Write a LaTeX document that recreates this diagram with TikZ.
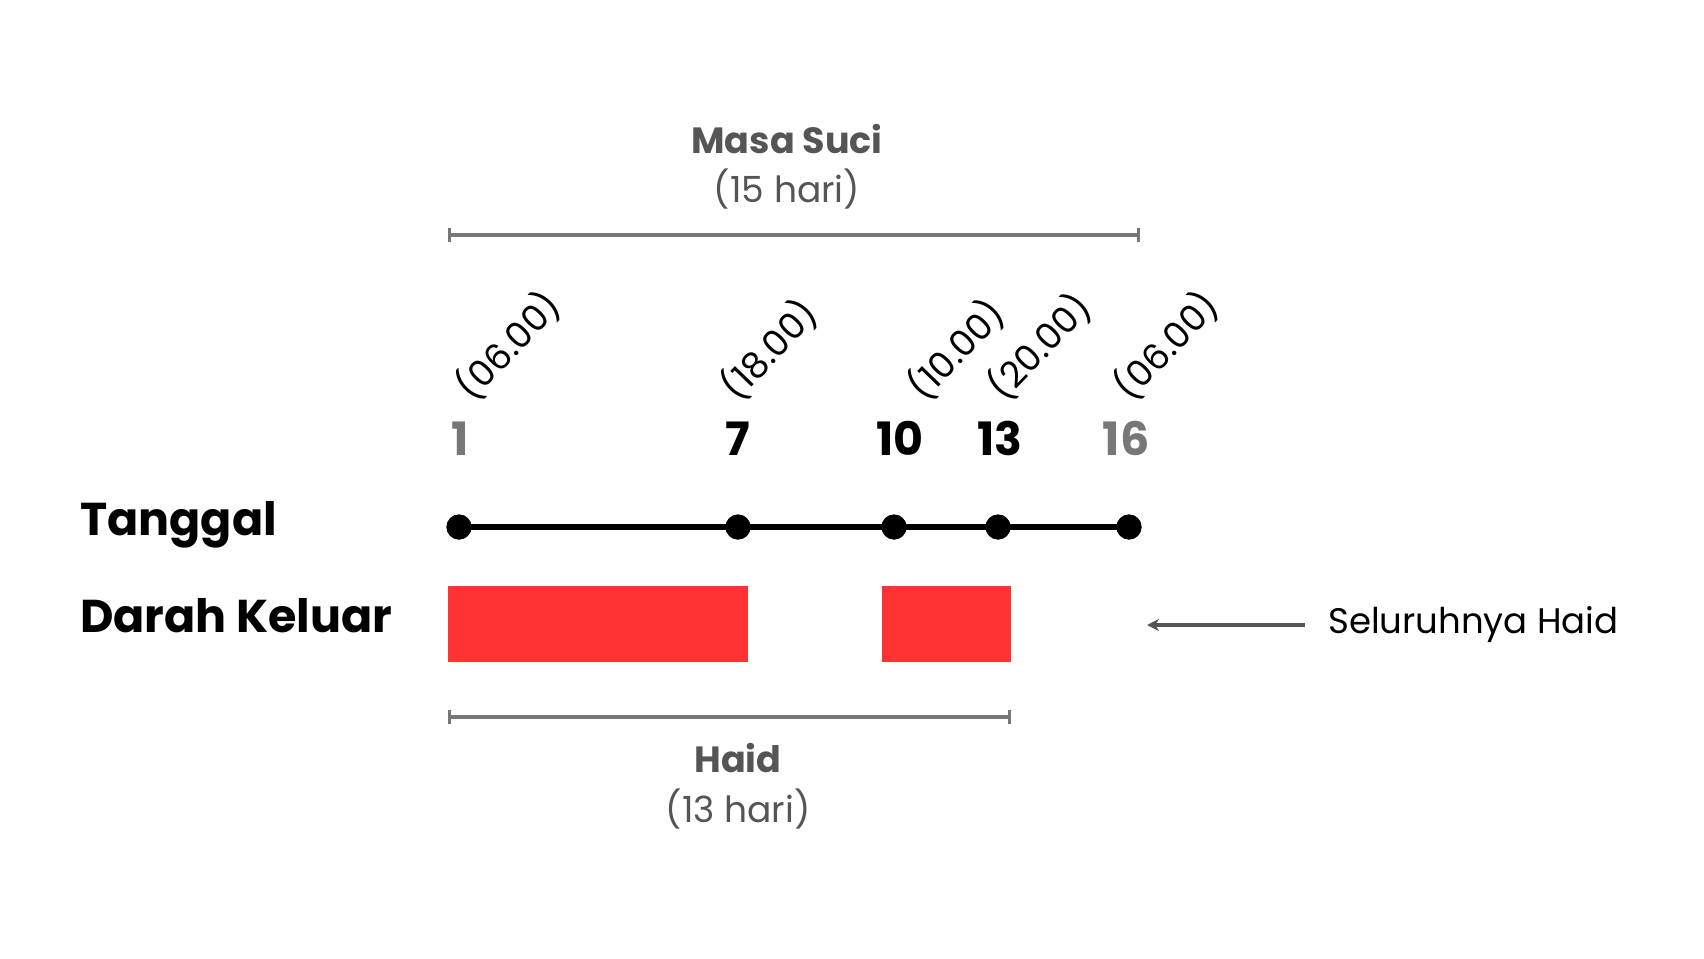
\documentclass[tikz,border=0pt]{standalone}
\usepackage{fontspec}
\setmainfont{Poppins}
\usetikzlibrary{arrows.meta}
\definecolor{dgray}{HTML}{555555}
\definecolor{mgray}{HTML}{777777}
\definecolor{bred}{HTML}{FF3333}
\tikzset{
  boldlbl/.style={inner sep=0pt, font=\fontsize{36.5}{44}\selectfont\bfseries, text=dgray, anchor=base},
  reglbl/.style={inner sep=0pt, font=\fontsize{36}{44}\selectfont, text=dgray, anchor=base},
  rowlbl/.style={inner sep=0pt, font=\fontsize{46}{55}\selectfont\bfseries, text=black, anchor=base west},
  numlbl/.style={inner sep=0pt, font=\fontsize{46}{54}\selectfont\bfseries, anchor=base},
  timelbl/.style={inner sep=0pt, font=\fontsize{36}{43}\selectfont, text=black, anchor=south west, rotate=46},
  dot/.style={circle, fill=black, inner sep=0pt, minimum size=25pt},
  bracket/.style={draw=mgray, line width=3.2pt, {Bar[width=14pt,line width=3pt]}-{Bar[width=14pt,line width=3pt]}},
  blood/.style={fill=bred, draw=none},
}
\begin{document}
\begin{tikzpicture}[x={(1pt,0)}, y={(0,-1pt)}]
\useasboundingbox (0,0) rectangle (1704,958);
\fill[white] (0,0) rectangle (1704,958);

% Masa Suci
\node[boldlbl] (ms) at (787,153) {Masa Suci};
\node[reglbl] (ms2) at (787,202) {(15 hari)};
\coordinate (tb1) at (448,235);
\coordinate (tb2) at (1140,235);
\draw[bracket] (tb1) -- (tb2);

% time labels
\node[timelbl] (t1) at (477,407) {(06.00)};
\node[timelbl] (t7) at (742,407) {(18.00)};
\node[timelbl] (t10) at (929,407) {(10.00)};
\node[timelbl] (t13) at (1009,407) {(20.00)};
\node[timelbl] (t16) at (1135,407) {(06.00)};

% numbers
\node[numlbl, text=mgray] (n1) at (460,455) {1};
\node[numlbl, text=black] (n7) at (738,455) {7};
\node[numlbl, text=black] (n10) at (900,455) {10};
\node[numlbl, text=black] (n13) at (1000,455) {13};
\node[numlbl, text=mgray] (n16) at (1126,455) {16};

% row labels
\node[rowlbl] (tg) at (80,535) {Tanggal};
\node[rowlbl] (dk) at (80,632) {Darah Keluar};

% timeline
\node[dot] (d1) at (459,527) {};
\node[dot] (d7) at (738,527) {};
\node[dot] (d10) at (894,527) {};
\node[dot] (d13) at (998,527) {};
\node[dot] (d16) at (1129,527) {};
\draw[line width=6pt] (d1.center) -- (d7.center) -- (d10.center) -- (d13.center) -- (d16.center);
\foreach \d in {d1,d7,d10,d13,d16} \fill (\d) circle (12.5pt);

% blood
\fill[blood] (448,586) rectangle (748,662);
\fill[blood] (882,586) rectangle (1011,662);

% Haid
\coordinate (bb1) at (448,717);
\coordinate (bb2) at (1011,717);
\draw[bracket] (bb1) -- (bb2);
\node[boldlbl] (hd) at (738,772) {Haid};
\node[reglbl] (hd2) at (738,822) {(13 hari)};

% arrow
\node[inner sep=0pt, font=\fontsize{35.5}{43}\selectfont, anchor=base west] (sh) at (1328,633) {Seluruhnya Haid};
\coordinate (ae) at (1147,625);
\draw[draw=dgray, line width=3.2pt, -{Stealth[length=12pt,width=12pt]}] (1305,625) -- (ae);
\end{tikzpicture}
\end{document}
